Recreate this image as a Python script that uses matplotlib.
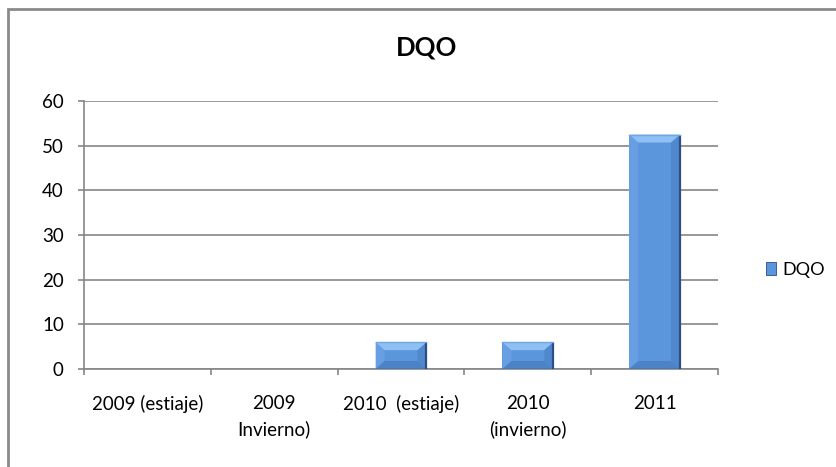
import numpy as np
import matplotlib
matplotlib.use("Agg")
import matplotlib.pyplot as plt
from matplotlib.patches import Rectangle, Polygon, Patch

plt.rcParams["font.family"] = ["Lato", "DejaVu Sans"]

# data
categories = ["2009 (estiaje)", "2009\nInvierno)", "2010  (estiaje)", "2010\n(invierno)", "2011"]
dqo = [0, 0, 6, 6, 52.5]
series_name = "DQO"
yticks = [0, 10, 20, 30, 40, 50, 60]

face = "#5B95DC"
top_c = "#8FC0F4"
bot_c = "#4C82C8"
side_l = "#679FE2"
side_r = "#5088CE"
edge_dark = "#2C4E82"
grid_c = "#868686"

fig = plt.figure(figsize=(8.36, 4.67), dpi=100)
# chart frame
fig.patches.append(Rectangle((7.5 / 836, -0.1), 1.0, 1 - 9 / 467 + 0.1,
                             transform=fig.transFigure, fill=False,
                             edgecolor="#8a8a8a", linewidth=2))

ax_w, ax_h = 634, 268
ax = fig.add_axes([84 / 836, 1 - 369 / 467, ax_w / 836, ax_h / 467])
x = np.arange(len(categories))
width = 0.4
bars = ax.bar(x, dqo, width, color=face, edgecolor="none", zorder=3)

ax.set_xlim(-0.5, len(categories) - 0.5)
ax.set_ylim(0, 60)

# bevel shading for the bars (Excel-like look)
px_x = len(categories) / ax_w
px_y = 60 / ax_h
for b, v in zip(bars, dqo):
    if v <= 0:
        continue
    x0, w = b.get_x(), b.get_width()
    x1 = x0 + w
    hpx = v / px_y
    dy = min(8, hpx / 3.2) * px_y
    dx = 9 * px_x
    ax.add_patch(Polygon([(x0, 0), (x0 + dx, dy), (x0 + dx, v - dy), (x0, v)],
                         closed=True, facecolor=side_l, edgecolor="none", zorder=4))
    ax.add_patch(Polygon([(x1, 0), (x1 - dx, dy), (x1 - dx, v - dy), (x1, v)],
                         closed=True, facecolor=side_r, edgecolor="none", zorder=4))
    ax.add_patch(Polygon([(x0, 0), (x1, 0), (x1 - dx, dy), (x0 + dx, dy)],
                         closed=True, facecolor=bot_c, edgecolor="none", zorder=4))
    ax.add_patch(Polygon([(x0, v), (x1, v), (x1 - dx, v - dy), (x0 + dx, v - dy)],
                         closed=True, facecolor=top_c, edgecolor="none", zorder=4))
    # dark right and bottom edges, light top edge
    ax.plot([x1, x1], [0, v], color=edge_dark, lw=1.6, zorder=5, solid_capstyle="butt")
    ax.plot([x0, x1], [0, 0], color=edge_dark, lw=1.0, zorder=5)
    ax.plot([x0, x1], [v, v], color="#6FA6E6", lw=1.0, zorder=5)

ax.set_yticks(yticks)
ax.yaxis.grid(True, color=grid_c, linewidth=1.2, zorder=0)
ax.set_axisbelow(True)

ax.set_xticks(np.arange(len(categories) + 1) - 0.5, minor=False)
ax.set_xticklabels([])
ax.tick_params(axis="x", which="major", length=4.5, color=grid_c, width=1.2)
ax.set_xticks(x, minor=True)
ax.set_xticklabels(categories, minor=True, fontsize=13.5, linespacing=1.55)
ax.tick_params(axis="x", which="minor", length=0, pad=19)
ax.tick_params(axis="y", length=4.5, color=grid_c, width=1.2, labelsize=13.5, pad=10)
for lab in ax.get_xticklabels(minor=True):
    lab.set_verticalalignment("top")
    lab.set_multialignment("center")

for s in ["top", "right"]:
    ax.spines[s].set_visible(False)
for s in ["left", "bottom"]:
    ax.spines[s].set_color(grid_c)
    ax.spines[s].set_linewidth(1.2)

fig.text(427 / 836, 1 - 47.5 / 467, "DQO", ha="center", va="center",
         fontsize=18.5, fontweight="bold")

handle = Patch(facecolor=face, edgecolor=edge_dark, linewidth=0.6)
fig.legend([handle], [series_name], loc="center left",
           bbox_to_anchor=(750 / 836, 1 - 270 / 467), frameon=False,
           fontsize=13, handlelength=0.55, handleheight=0.7, handletextpad=0.35)

fig.savefig("out.png", dpi=100)
